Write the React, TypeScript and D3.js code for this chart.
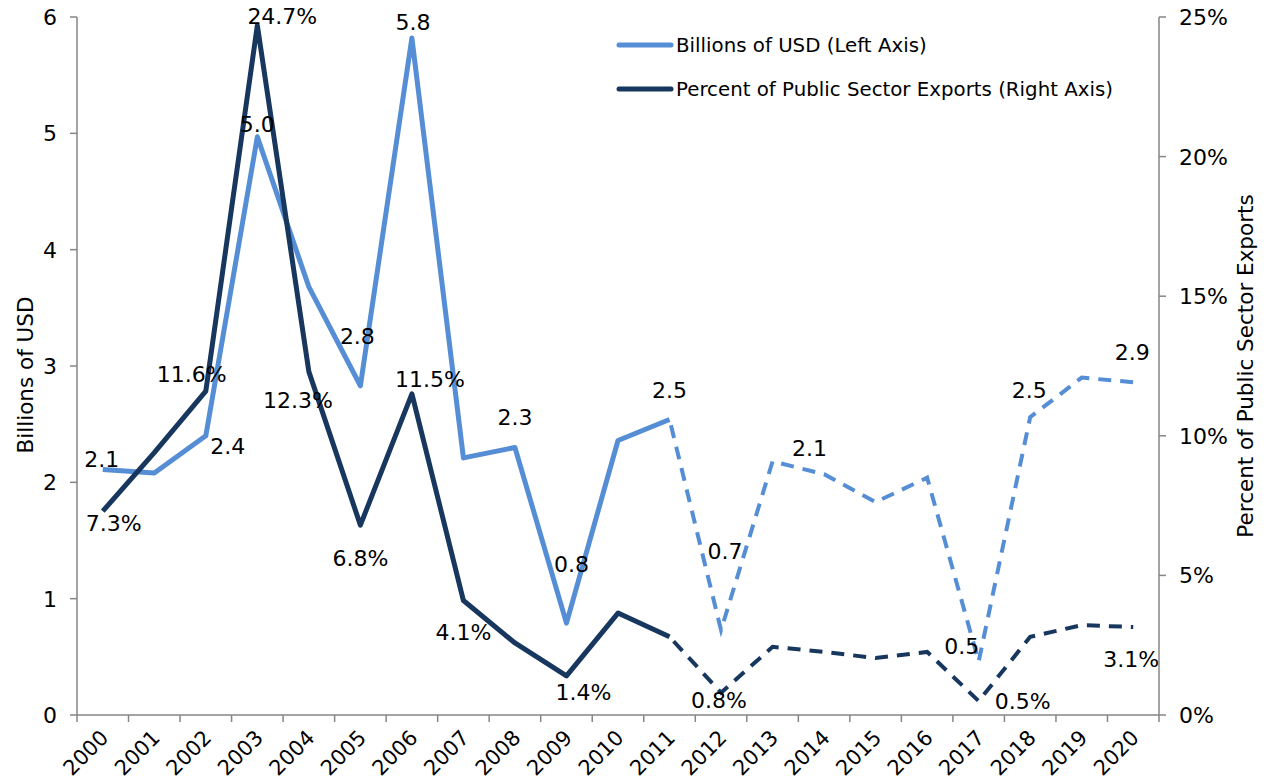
import React, { useEffect, useRef } from "react";
import * as d3 from "d3";

const years = ["2000","2001","2002","2003","2004","2005","2006","2007","2008","2009","2010",
  "2011","2012","2013","2014","2015","2016","2017","2018","2019","2020"];
const billions = [2.11, 2.08, 2.4, 4.97, 3.68, 2.83, 5.82, 2.21, 2.3, 0.79, 2.36,
  2.54, 0.73, 2.18, 2.07, 1.83, 2.04, 0.46, 2.56, 2.9, 2.86];
const percent = [7.3, 9.4, 11.6, 24.7, 12.3, 6.8, 11.5, 4.1, 2.58, 1.4, 3.65,
  2.8, 0.8, 2.44, 2.26, 2.04, 2.26, 0.5, 2.8, 3.22, 3.15];
const leftTicks = [0, 1, 2, 3, 4, 5, 6];
const rightTicks = [0, 5, 10, 15, 20, 25];
const lastActual = 11; // solid up to 2011, dashed after

// data labels: [index, text, dx, dy]
const billionLabels: [number, string, number, number][] = [
  [0, "2.1", -1, -10], [2, "2.4", 22, 10], [3, "5.0", 0, -13], [5, "2.8", -3, -50],
  [6, "5.8", 1, -16], [8, "2.3", 0, -30], [9, "0.8", 5, -59], [11, "2.5", 0, -29],
  [12, "0.7", 4, -79], [13, "2.1", 37, -13], [17, "0.5", -17, -15], [18, "2.5", -1, -27],
  [20, "2.9", -1, -30],
];
const percentLabels: [number, string, number, number][] = [
  [0, "7.3%", 11, 12], [2, "11.6%", -14, -17], [3, "24.7%", 25, -9], [4, "12.3%", -11, 28],
  [5, "6.8%", 0, 33], [6, "11.5%", 18, -15], [7, "4.1%", 0, 32], [9, "1.4%", 17, 16],
  [12, "0.8%", -2, 7], [17, "0.5%", 44, 0], [20, "3.1%", -2, 32],
];

const lightBlue = "#558ED5";
const darkBlue = "#17375E";
const axisGray = "#868686";
const font = "DejaVu Sans, Verdana, sans-serif";

export default function App() {
  const ref = useRef<SVGSVGElement>(null);

  useEffect(() => {
    const svg = d3.select(ref.current);
    svg.selectAll("*").remove();

    const left = 77, right = 1159, top = 17, bottom = 715;
    const x = d3.scaleBand().domain(years).range([left, right]);
    const yL = d3.scaleLinear().domain([0, 6]).range([bottom, top]);
    const yR = d3.scaleLinear().domain([0, 25]).range([bottom, top]);
    const cx = (i: number) => (x(years[i]) as number) + x.bandwidth() / 2;

    // axes
    const gx = svg.append("g").attr("transform", `translate(0,${bottom})`);
    gx.append("line").attr("x1", left).attr("x2", right).attr("stroke", axisGray).attr("stroke-width", 1.5);
    const bounds = d3.range(years.length + 1).map((i) => left + i * x.bandwidth());
    gx.selectAll("line.t").data(bounds).enter().append("line")
      .attr("x1", (d) => d).attr("x2", (d) => d).attr("y1", 0).attr("y2", 7)
      .attr("stroke", axisGray).attr("stroke-width", 1.5);
    gx.selectAll("text").data(years).enter().append("text")
      .attr("transform", (d, i) => `translate(${cx(i) + 7},${24}) rotate(-45)`)
      .attr("text-anchor", "end").attr("font-size", 21).attr("font-family", font)
      .attr("fill", "#000").text((d) => d);

    const gl = svg.append("g").attr("transform", `translate(${left},0)`);
    gl.append("line").attr("y1", top).attr("y2", bottom).attr("stroke", axisGray).attr("stroke-width", 1.5);
    gl.selectAll("line.t").data(leftTicks).enter().append("line")
      .attr("x1", -7).attr("x2", 0).attr("y1", (d) => yL(d)).attr("y2", (d) => yL(d))
      .attr("stroke", axisGray).attr("stroke-width", 1.5);
    gl.selectAll("text").data(leftTicks).enter().append("text")
      .attr("x", -20).attr("y", (d) => yL(d)).attr("dy", "0.36em")
      .attr("text-anchor", "end").attr("font-size", 22).attr("font-family", font).text((d) => d);

    const gr = svg.append("g").attr("transform", `translate(${right},0)`);
    gr.append("line").attr("y1", top).attr("y2", bottom).attr("stroke", axisGray).attr("stroke-width", 1.5);
    gr.selectAll("line.t").data(rightTicks).enter().append("line")
      .attr("x1", 0).attr("x2", 7).attr("y1", (d) => yR(d)).attr("y2", (d) => yR(d))
      .attr("stroke", axisGray).attr("stroke-width", 1.5);
    gr.selectAll("text").data(rightTicks).enter().append("text")
      .attr("x", 20).attr("y", (d) => yR(d)).attr("dy", "0.36em")
      .attr("text-anchor", "start").attr("font-size", 22).attr("font-family", font).text((d) => d + "%");

    svg.append("text").attr("transform", `translate(33,${(top + bottom) / 2 + 9}) rotate(-90)`)
      .attr("text-anchor", "middle").attr("font-size", 21.5).attr("font-family", font).text("Billions of USD");
    svg.append("text").attr("transform", `translate(1253,${(top + bottom) / 2}) rotate(-90)`)
      .attr("text-anchor", "middle").attr("font-size", 21.5).attr("font-family", font).text("Percent of Public Sector Exports");

    // lines
    const draw = (vals: number[], y: d3.ScaleLinear<number, number>, color: string) => {
      const solidLine = d3.line<number>().defined((d, i) => i <= lastActual).x((d, i) => cx(i)).y((d) => y(d));
      svg.append("path").attr("d", solidLine(vals)).attr("fill", "none").attr("stroke", color)
        .attr("stroke-width", 5).attr("stroke-linejoin", "round");
      const dashed = d3.line<number>().x((d, i) => cx(i + lastActual)).y((d) => y(d));
      svg.append("path").attr("d", dashed(vals.slice(lastActual))).attr("fill", "none").attr("stroke", color)
        .attr("stroke-width", 4).attr("stroke-dasharray", "13,9").attr("stroke-dashoffset", -6);
    };
    draw(billions, yL, lightBlue);
    draw(percent, yR, darkBlue);

    // data labels
    const addLabels = (labels: [number, string, number, number][], vals: number[], y: d3.ScaleLinear<number, number>) => {
      svg.append("g").selectAll("text").data(labels).enter().append("text")
        .attr("x", (d) => cx(d[0]) + d[2]).attr("y", (d) => y(vals[d[0]]) + d[3])
        .attr("dy", "0.36em").attr("text-anchor", "middle")
        .attr("font-size", 22).attr("font-family", font).attr("fill", "#000").text((d) => d[1]);
    };
    addLabels(billionLabels, billions, yL);
    addLabels(percentLabels, percent, yR);

    // legend
    const legend = [
      { name: "Billions of USD (Left Axis)", color: lightBlue },
      { name: "Percent of Public Sector Exports (Right Axis)", color: darkBlue },
    ];
    const lg = svg.append("g").selectAll("g").data(legend).enter().append("g")
      .attr("transform", (d, i) => `translate(619,${45 + i * 44})`);
    lg.append("line").attr("x1", 0).attr("x2", 52).attr("stroke", (d) => d.color)
      .attr("stroke-width", 5).attr("stroke-linecap", "round");
    lg.append("text").attr("x", 57).attr("dy", "0.36em").attr("font-size", 19.8)
      .attr("font-family", font).text((d) => d.name);
  }, []);

  return <svg ref={ref} width={1265} height={784} style={{ position: "absolute", left: 0, top: 0 }} />;
}
